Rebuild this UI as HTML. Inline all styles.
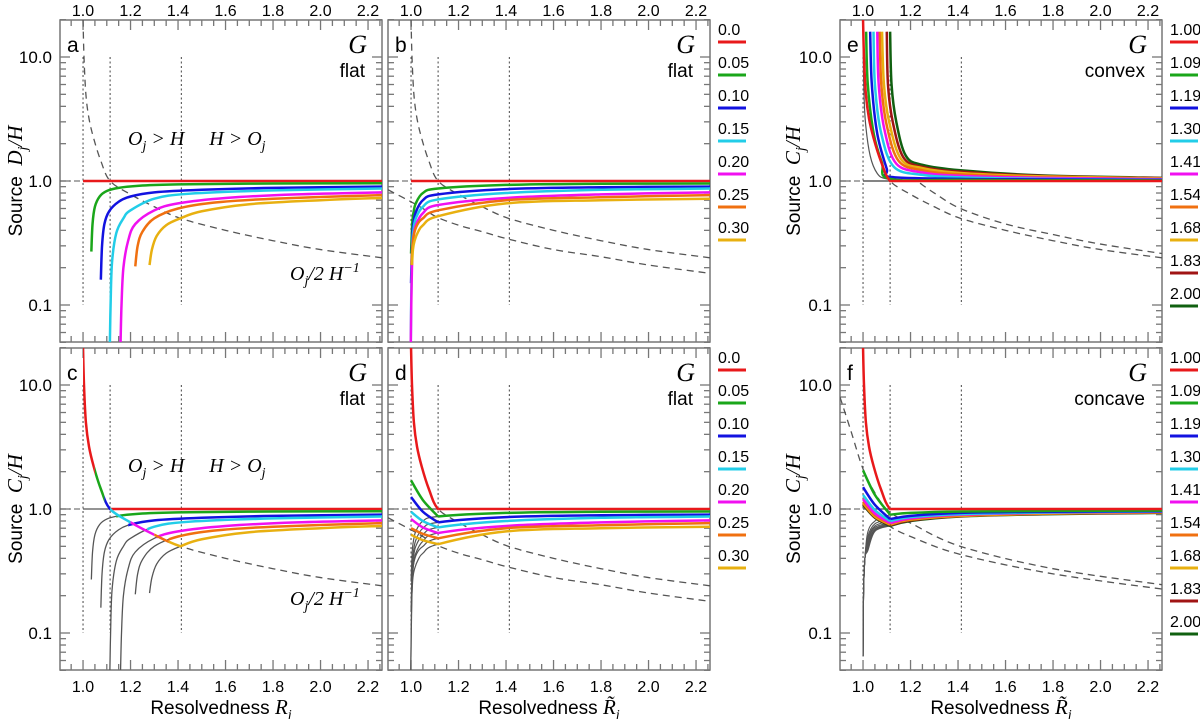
<!DOCTYPE html>
<html><head><meta charset="utf-8"><style>
html,body{margin:0;padding:0;background:#fff;}
svg{display:block;font-family:"Liberation Sans",sans-serif;}
</style></head><body>
<svg id="chart" width="1200" height="719" viewBox="0 0 1200 719" xmlns="http://www.w3.org/2000/svg"></svg>
<script>
// ---------- data ----------
const colors = ["#e8191b","#1aa61a","#1212e0","#22cde8","#f010f0","#f07010","#e8b010","#a01414","#106010"];
const legendLeft = ["0.0","0.05","0.10","0.15","0.20","0.25","0.30"];
const legendRight = ["1.00","1.09","1.19","1.30","1.41","1.54","1.68","1.83","2.00"];
const xTickLabels = [1.0,1.2,1.4,1.6,1.8,2.0,2.2];
const yTickLabels = [10,1,0.1];
const vLines = [1.0,1.114,1.414];

const dashMainX = [1.0,1.004,1.012,1.025,1.045,1.075,1.114,1.2,1.3,1.41,1.6,1.8,2.0,2.26];
const dashMainY = [20,10,5,3.2,2.2,1.45,1.0,0.78,0.62,0.5,0.4,0.33,0.28,0.24];
const dashLowX = [0.903,1.0,1.05,1.11,1.2,1.3,1.41,1.6,1.8,2.0,2.26];
const dashLowY = [0.85,0.68,0.6,0.51,0.44,0.39,0.34,0.28,0.245,0.21,0.18];
const dashEX = [1.24,1.3,1.41,1.6,1.8,2.0,2.26];
const dashEY = [0.96,0.8,0.6,0.45,0.37,0.31,0.26];
const dashFAX = [0.903,0.95,1.0,1.05,1.11,1.2,1.41,1.8,2.26];
const dashFAY = [8,4.2,2.1,1.35,0.95,0.77,0.5,0.33,0.245];
const dashFBX = [1.0,1.05,1.11,1.2,1.41,1.8,2.26];
const dashFBY = [1.2,0.9,0.73,0.6,0.43,0.3,0.226];

const redFlatX = [1.0,2.26];
const redFlatY = [1,1];
const aX = [
 [1.035,1.04,1.05,1.07,1.1,1.15,1.25,1.4,1.8,2.26],
 [1.075,1.08,1.09,1.11,1.15,1.2,1.3,1.5,1.8,2.26],
 [1.113,1.116,1.122,1.14,1.17,1.2,1.3,1.45,1.8,2.26],
 [1.158,1.162,1.17,1.19,1.22,1.3,1.4,1.6,1.9,2.26],
 [1.22,1.23,1.25,1.3,1.4,1.55,1.8,2.26],
 [1.28,1.29,1.31,1.35,1.41,1.5,1.7,2.0,2.26]];
const aY = [
 [0.27,0.45,0.62,0.75,0.83,0.88,0.92,0.94,0.955,0.96],
 [0.16,0.3,0.45,0.57,0.68,0.75,0.81,0.85,0.88,0.9],
 [0.05,0.1,0.22,0.38,0.5,0.58,0.72,0.79,0.84,0.87],
 [0.05,0.1,0.2,0.33,0.45,0.58,0.66,0.73,0.78,0.81],
 [0.205,0.3,0.39,0.5,0.6,0.67,0.72,0.77],
 [0.21,0.28,0.36,0.44,0.5,0.57,0.65,0.7,0.73]];
const cMeet = [1.14,1.19,1.27,1.31,1.36,1.41];
const cDashStart = [1.0,1.05,1.09,1.114,1.2,1.3,1.36];
const cDashEnd = [1.05,1.09,1.114,1.2,1.3,1.36,1.41];

const bX = [
 [1.0,1.005,1.01,1.02,1.05,1.114,1.4,1.8,2.26],
 [1.0,1.005,1.01,1.02,1.05,1.114,1.4,1.8,2.26],
 [0.999,1.001,1.005,1.01,1.02,1.05,1.114,1.4,1.8,2.26],
 [0.999,1.001,1.005,1.01,1.02,1.05,1.114,1.4,1.8,2.26],
 [1.002,1.006,1.012,1.025,1.05,1.114,1.4,1.8,2.26],
 [1.004,1.008,1.015,1.03,1.05,1.114,1.4,1.8,2.26]];
const bY = [
 [0.26,0.45,0.55,0.66,0.8,0.87,0.93,0.95,0.955],
 [0.15,0.35,0.45,0.56,0.7,0.78,0.86,0.89,0.9],
 [0.05,0.12,0.3,0.4,0.5,0.62,0.71,0.8,0.85,0.87],
 [0.05,0.1,0.25,0.35,0.44,0.55,0.64,0.73,0.78,0.81],
 [0.21,0.3,0.37,0.44,0.5,0.58,0.7,0.74,0.77],
 [0.21,0.28,0.33,0.39,0.44,0.52,0.66,0.7,0.72]];
const dDownX = [1.0,1.05,1.114];
const dDownY = [[1.7,1.18,0.87],[1.25,0.95,0.78],[0.95,0.8,0.71],[0.83,0.71,0.64],[0.7,0.63,0.58],[0.62,0.56,0.52]];

const eX = [
 [1.013,1.02,1.045,1.08,1.114,1.41,2.26],
 [1.03,1.037,1.06,1.1,1.114,1.41,1.75,2.26],
 [1.044,1.05,1.075,1.13,1.25,1.41,1.75,2.26],
 [1.06,1.066,1.09,1.14,1.25,1.41,1.75,2.26],
 [1.07,1.077,1.1,1.15,1.25,1.41,1.75,2.26],
 [1.08,1.088,1.11,1.16,1.25,1.41,1.75,2.26],
 [1.1,1.105,1.125,1.17,1.25,1.41,1.75,2.26],
 [1.114,1.12,1.14,1.18,1.25,1.41,1.75,2.26]];
const eY = [
 [16,6,2.4,1.4,1.04,1.02,1.01],
 [16,6,2.4,1.25,1.08,1.04,1.03,1.02],
 [16,6,2.5,1.3,1.12,1.07,1.04,1.025],
 [16,6,2.6,1.38,1.17,1.1,1.06,1.035],
 [16,6,2.8,1.45,1.22,1.13,1.07,1.04],
 [16,6,3,1.5,1.27,1.16,1.09,1.05],
 [16,6,3,1.55,1.3,1.19,1.1,1.055],
 [16,6,3,1.6,1.35,1.22,1.11,1.06]];
const eGreyX = [1.0,1.003,1.01,1.03,1.06,1.1,1.2];
const eGreyY = [16,6,3,1.6,1.15,1.04,1.01];

const fDownX = [1.0,1.05,1.114];
const fDownY = [[2.05,1.3,0.9],[1.5,1.08,0.83],[1.3,0.98,0.8],[1.2,0.92,0.77],[1.15,0.89,0.76],[1.12,0.87,0.75],[1.1,0.86,0.74],[1.08,0.85,0.73]];
const fRiseX = [1.114,1.2,1.41,1.8,2.26];
const fRiseY = [[0.9,0.93,0.955,0.965,0.97],[0.83,0.88,0.93,0.95,0.96],[0.8,0.86,0.91,0.94,0.955],[0.77,0.84,0.9,0.935,0.95],[0.76,0.83,0.89,0.93,0.945],[0.75,0.82,0.88,0.92,0.94],[0.74,0.81,0.875,0.915,0.935],[0.73,0.8,0.87,0.91,0.93]];
const fGreyX = [1.0,1.002,1.008,1.02,1.05,1.114];
const fGreyMid1 = [0.65,0.6,0.57,0.54,0.52,0.5,0.48,0.46];
const fGreyMid2 = [0.8,0.76,0.73,0.71,0.69,0.68,0.67,0.66];

// ---------- layout ----------
const NS = "http://www.w3.org/2000/svg";
const svg = document.getElementById("chart");
const W = 322, H = 322, XMIN = 0.903, XPX = 237.5, DEC = 124;
const panels = {a:[60,20],b:[388,20],e:[840,20],c:[60,348],d:[388,348],f:[840,348]};
function el(tag, attrs, parent){ const e=document.createElementNS(NS,tag); for(const k in attrs) e.setAttribute(k,attrs[k]); (parent||svg).appendChild(e); return e; }
function sx(p,v){ return panels[p][0] + (v-XMIN)*XPX; }
function sy(p,v){ return panels[p][1] + 161 - DEC*Math.log10(v); }
function pathD(p,xs,ys){
  const pts = xs.map((x,i)=>[sx(p,x),sy(p,ys[i])]);
  let d = "M"+pts[0][0].toFixed(2)+","+pts[0][1].toFixed(2);
  if(pts.length===2) return d+"L"+pts[1][0].toFixed(2)+","+pts[1][1].toFixed(2);
  for(let i=0;i<pts.length-1;i++){
    const p0=pts[i-1]||pts[i], p1=pts[i], p2=pts[i+1], p3=pts[i+2]||p2;
    const c1=[p1[0]+(p2[0]-p0[0])/6, p1[1]+(p2[1]-p0[1])/6];
    const c2=[p2[0]-(p3[0]-p1[0])/6, p2[1]-(p3[1]-p1[1])/6];
    d += "C"+c1[0].toFixed(2)+","+c1[1].toFixed(2)+" "+c2[0].toFixed(2)+","+c2[1].toFixed(2)+" "+p2[0].toFixed(2)+","+p2[1].toFixed(2);
  }
  return d;
}
const defs = el("defs",{});
let clipN = 0;
function clip(p,x0,x1){
  const id="cl"+(clipN++);
  const cp=el("clipPath",{id:id},defs);
  const L=Math.max(panels[p][0], x0===null?-1e9:sx(p,x0));
  const R=Math.min(panels[p][0]+W, x1===null?1e9:sx(p,x1));
  el("rect",{x:L,y:panels[p][1],width:Math.max(0,R-L),height:H},cp);
  return "url(#"+id+")";
}
function series(p,xs,ys,color,width,name,x0,x1,dash){
  const g = el("g",{"clip-path":clip(p,x0===undefined?null:x0,x1===undefined?null:x1)});
  const a = {d:pathD(p,xs,ys),fill:"none",stroke:color,"stroke-width":width,"stroke-linejoin":"round"};
  if(dash) a["stroke-dasharray"]=dash;
  const e = el("path",a,g);
  
  
  return e;
}
function text(x,y,str,size,attrs,name){
  const t = el("text",Object.assign({x:x,y:y,"font-size":size,fill:"#000"},attrs||{}));
  t.textContent = str;
  
  
  return t;
}

// ---------- panel frames, ticks, reference lines ----------
for(const p in panels){
  const [L,T] = panels[p];
  const fr = el("rect",{x:L,y:T,width:W,height:H,fill:"none",stroke:"#777","stroke-width":1.5});
  
  
  for(let k=19;k<=45;k++){
    const v=k*0.05, x=sx(p,v);
    const major = (k%4===0);
    const len = major?10:6;
    el("line",{x1:x,y1:T+H,x2:x,y2:T+H-len,stroke:"#777","stroke-width":1.3});
    el("line",{x1:x,y1:T,x2:x,y2:T+len,stroke:"#777","stroke-width":1.3});
  }
  for(let d=-2; d<=1; d++){
    for(let m=1;m<=9;m++){
      const v=m*Math.pow(10,d);
      if(v<0.05||v>20) continue;
      const y=sy(p,v), len=(m===1)?10:6;
      el("line",{x1:L,y1:y,x2:L+len,y2:y,stroke:"#777","stroke-width":1.3});
      el("line",{x1:L+W,y1:y,x2:L+W-len,y2:y,stroke:"#777","stroke-width":1.3});
    }
  }
  vLines.forEach(v=>{
    const l=el("line",{x1:sx(p,v),y1:sy(p,10),x2:sx(p,v),y2:sy(p,0.1),stroke:"#555","stroke-width":1.1,"stroke-dasharray":"2,2.5"});
    
    
  });
  el("line",{x1:L,y1:sy(p,1),x2:sx(p,1.0),y2:sy(p,1),stroke:"#555","stroke-width":1.1,"stroke-dasharray":"6,3,2,3"});
  if(p==="c"||p==="e"||p==="f"||p==="d") el("line",{x1:sx(p,1.0),y1:sy(p,1),x2:sx(p,1.114),y2:sy(p,1),stroke:"#555","stroke-width":1.2});
  if(p==="e") el("line",{x1:sx(p,1.0),y1:sy(p,1),x2:sx(p,2.26),y2:sy(p,1),stroke:"#555","stroke-width":1.2});
  text(L+7,T+32,p,21,{},"panel-letter-"+p);
  text(L+W-15,T+33,"G",26,{"font-family":"Liberation Serif,serif","font-style":"italic","text-anchor":"end"},"panel-"+p+"-G-label");
  const kind = {a:"flat",b:"flat",c:"flat",d:"flat",e:"convex",f:"concave"}[p];
  text(L+W-17,T+57,kind,19,{"text-anchor":"end"},"panel-"+p+"-shape-label");
}
["a","c","e","f"].forEach(p=>{
  yTickLabels.forEach(v=>text(panels[p][0]-8,sy(p,v)+6,v===10?"10.0":v===1?"1.0":"0.1",17,{"text-anchor":"end"},"y-tick-label"));
});
["a","b","e"].forEach(p=>xTickLabels.forEach(v=>text(sx(p,v),16,v.toFixed(1),16,{"text-anchor":"middle"},"x-top-tick-label")));
["c","d","f"].forEach(p=>xTickLabels.forEach(v=>text(sx(p,v),692,v.toFixed(1),16,{"text-anchor":"middle"},"x-tick-label")));
function xTitle(p,tilde){
  const t=text(panels[p][0]+W/2,714,"Resolvedness ",19,{"text-anchor":"middle","xml:space":"preserve","style":"white-space:pre"},"x-axis-title-"+p);
  const s=el("tspan",{"font-family":"Liberation Serif,serif","font-style":"italic","font-size":21},t); s.textContent=tilde?"R\u0303":"R";
  const j=el("tspan",{"font-family":"Liberation Serif,serif","font-style":"italic","font-size":14,dy:5},t); j.textContent="j";
}
xTitle("c",false); xTitle("d",true); xTitle("f",true);
function yTitle(x,yc,letter,name){
  const t=el("text",{x:0,y:0,"font-size":19,"text-anchor":"middle","style":"white-space:pre",transform:"translate("+x+","+yc+") rotate(-90)"});
  
  
  const a=el("tspan",{},t); a.textContent="Source  ";
  const b=el("tspan",{"font-family":"Liberation Serif,serif","font-style":"italic","font-size":21},t); b.textContent=letter;
  const c=el("tspan",{"font-family":"Liberation Serif,serif","font-style":"italic","font-size":14,dy:5},t); c.textContent="j";
  const d=el("tspan",{"font-family":"Liberation Serif,serif","font-style":"italic","font-size":21,dy:-5},t); d.textContent="/H";
}
yTitle(22,181,"D","y-axis-title-a"); yTitle(22,509,"C","y-axis-title-c");
yTitle(800,181,"C","y-axis-title-e"); yTitle(800,509,"C","y-axis-title-f");
function ohText(p,y){
  const t=text(panels[p][0]+68,y,"",20,{"font-family":"Liberation Serif,serif","font-style":"italic","style":"white-space:pre"},"region-label-"+p);
  const parts=[["O",0],["j",5],[" > H     H > O",-5],["j",5]];
  parts.forEach(([s,dy])=>{const ts=el("tspan",{dy:dy,"font-size":s==="j"?14:20},t); ts.textContent=s;});
}
ohText("a",145); ohText("c",472);
function ocText(p,y){
  const t=text(panels[p][0]+230,y,"",20,{"font-family":"Liberation Serif,serif","font-style":"italic","style":"white-space:pre"},"curve-label-"+p);
  const parts=[["O",0,20],["j",5,14],["/2 H",-5,20],["\u22121",-8,14]];
  parts.forEach(([s,dy,fs])=>{const ts=el("tspan",{dy:dy,"font-size":fs},t); ts.textContent=s;});
}
ocText("a",280); ocText("c",605);

// ---------- legends ----------
function legend(x,top,labels,name){
  labels.forEach((lab,i)=>{
    text(x,top+i*33,lab,16,{},name+"-label");
    const l=el("line",{x1:x,y1:top+7+i*33,x2:x+28,y2:top+7+i*33,stroke:colors[i],"stroke-width":3});
    
    
  });
}
legend(718,35,legendLeft,"legend-top-left"); legend(718,363,legendLeft,"legend-bottom-left");
legend(1170,35,legendRight,"legend-top-right"); legend(1170,363,legendRight,"legend-bottom-right");

// ---------- series ----------
const DASH="7,5", DG="#555";
// a
series("a",dashMainX,dashMainY,DG,1.3,"dashed-curve",null,null,DASH);
series("a",redFlatX,redFlatY,colors[0],2.5,"curve-red");
aX.forEach((xs,i)=>series("a",xs,aY[i],colors[i+1],2.5,"curve-"+i));
// c
series("c",dashMainX,dashMainY,DG,1.3,"dashed-curve",1.41,null,DASH);
aX.forEach((xs,i)=>series("c",xs,aY[i],"#555",1.3,"grey-curve",null,cMeet[i]));
series("c",[1.114,2.26],[1,1],colors[0],2.5,"curve-red");
aX.forEach((xs,i)=>series("c",xs,aY[i],colors[i+1],2.5,"curve-"+i,cMeet[i],null));
cDashStart.forEach((s,i)=>series("c",dashMainX,dashMainY,colors[i],2.5,"envelope-segment",s,cDashEnd[i]));
// b
series("b",dashMainX,dashMainY,DG,1.3,"dashed-curve",null,null,DASH);
series("b",dashLowX,dashLowY,DG,1.3,"dashed-curve-low",null,null,DASH);
series("b",redFlatX,redFlatY,colors[0],2.5,"curve-red");
bX.forEach((xs,i)=>series("b",xs,bY[i],colors[i+1],2.5,"curve-"+i));
// d
series("d",dashMainX,dashMainY,DG,1.3,"dashed-curve",1.114,null,DASH);
series("d",dashLowX,dashLowY,DG,1.3,"dashed-curve-low",null,null,DASH);
bX.forEach((xs,i)=>series("d",xs,bY[i],"#555",1.2,"grey-curve",null,1.114));
series("d",dashMainX,dashMainY,colors[0],2.5,"curve-red",null,1.114);
series("d",[1.114,2.26],[1,1],colors[0],2.5,"curve-red-flat");
bX.forEach((xs,i)=>series("d",xs,bY[i],colors[i+1],2.5,"curve-"+i,1.114,null));
dDownY.forEach((ys,i)=>series("d",dDownX,ys,colors[i+1],2.5,"curve-down-"+i));
// e
series("e",dashMainX,dashMainY,DG,1.3,"dashed-curve",1.114,null,DASH);
series("e",dashEX,dashEY,DG,1.3,"dashed-curve-upper",null,null,DASH);
series("e",eGreyX,eGreyY,"#555",1.2,"grey-curve");
eX.slice().reverse().forEach((xs,j)=>{const i=eX.length-1-j; series("e",xs,eY[i],colors[i+1],2.5,"curve-"+(i+1));});
series("e",dashMainX,dashMainY,colors[0],2.5,"curve-red",null,1.114);
series("e",[1.114,2.26],[1,1],colors[0],2.5,"curve-red-flat");
// f
series("f",dashFAX,dashFAY,DG,1.3,"dashed-curve-a",null,null,DASH);
series("f",dashFBX,dashFBY,DG,1.3,"dashed-curve-b",null,null,DASH);
fDownY.forEach((ys,i)=>series("f",fGreyX,[0.065,0.2,0.4,fGreyMid1[i],fGreyMid2[i],ys[2]],"#555",1.1,"grey-curve"));
fRiseY.slice().reverse().forEach((ys,j)=>{const i=fRiseY.length-1-j; series("f",fRiseX,ys,colors[i+1],2.5,"curve-rise-"+(i+1));});
fDownY.slice().reverse().forEach((ys,j)=>{const i=fDownY.length-1-j; series("f",fDownX,ys,colors[i+1],2.5,"curve-down-"+(i+1));});
series("f",dashMainX,dashMainY,colors[0],2.5,"curve-red",null,1.114);
series("f",[1.114,2.26],[1,1],colors[0],2.5,"curve-red-flat");
</script>
</body></html>
